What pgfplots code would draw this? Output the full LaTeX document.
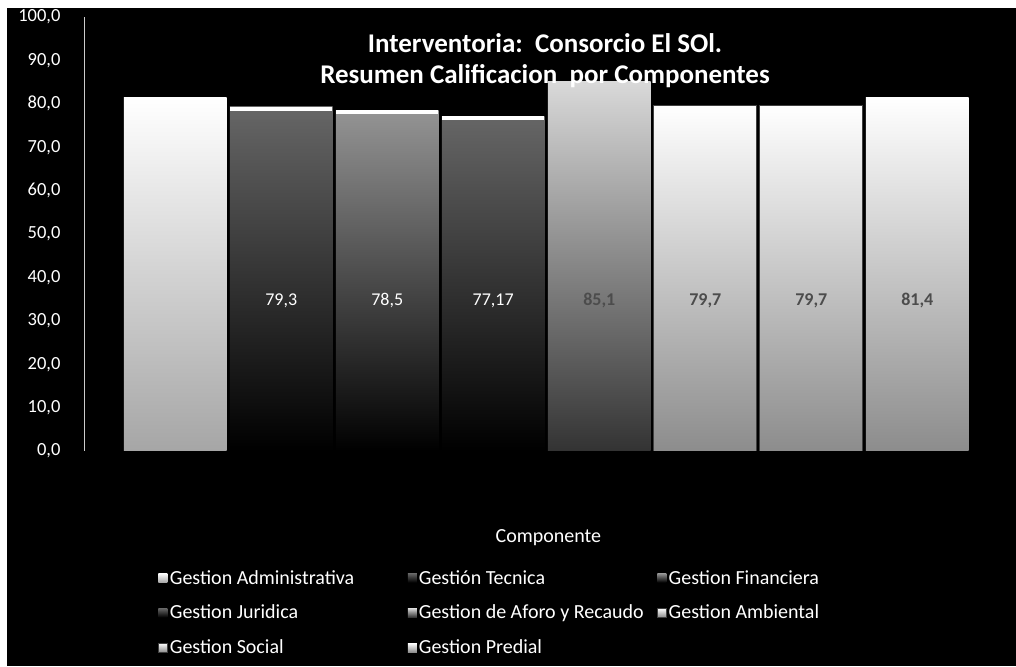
\documentclass[border=0pt]{standalone}
\usepackage{fontspec}
\setmainfont{Carlito}
\usepackage{pgfplots}
\pgfplotsset{compat=1.18}
\begin{document}
\begin{tikzpicture}
\fill[white] (0,0) rectangle (1016pt,666pt);
\fill[black] (7pt,0) rectangle (1016pt,658pt);
\useasboundingbox (0,0) rectangle (1016pt,666pt);
\begin{axis}[
  name=ax,
  at={(84pt,215pt)}, anchor=south west,
  scale only axis, width=916pt, height=434pt,
  xmin=-0.86, xmax=7.78, ymin=0, ymax=100,
  ybar, bar shift=0pt, bar width=0.97,
  axis y line*=left, axis x line*=bottom,
  x axis line style={draw=none},
  y axis line style={white!80!black, line width=0.8pt},
  ytick={0,10,...,100}, major tick length=0pt,
  yticklabel style={font=\fontsize{18.5}{22}\selectfont, text=white, xshift=-20pt,
    /pgf/number format/.cd, fixed, fixed zerofill, precision=1, use comma, assume math mode=true},
  xtick=\empty,
  xlabel={Componente},
  x label style={at={(axis description cs:0.507,0)}, anchor=center, yshift=-87pt,
    font=\fontsize{20}{24}\selectfont, text=white},
  legend columns=3,
  legend cell align=left,
  legend image code/.code={\fill[#1] (0pt,-4.5pt) rectangle (9pt,4.5pt);},
  legend style={at={(0.0774,-0.265)}, anchor=north west, fill=black, draw=none,
    text=white, font=\fontsize{20}{24}\selectfont, row sep=15.5pt,
    /tikz/every even column/.append style={column sep=8pt}},
]
\addplot[draw=none, top color=white, middle color=white, bottom color=black!35] coordinates {(0,81.4)};
\addlegendentry{\makebox[228pt][l]{Gestion Administrativa}}
\addplot[draw=none, top color=black!60, middle color=black, bottom color=black] coordinates {(1,79.3)};
\addlegendentry{\makebox[228pt][l]{Gestión Tecnica}}
\addplot[draw=none, top color=black!42, middle color=black!88, bottom color=black] coordinates {(2,78.5)};
\addlegendentry{\makebox[228pt][l]{Gestion Financiera}}
\addplot[draw=none, top color=black!60, middle color=black, bottom color=black] coordinates {(3,77.17)};
\addlegendentry{\makebox[228pt][l]{Gestion Juridica}}
\addplot[draw=none, top color=black!15, middle color=black!35, bottom color=black!80] coordinates {(4,85.1)};
\addlegendentry{\makebox[228pt][l]{Gestion de Aforo y Recaudo}}
\addplot[draw=black!75, line width=0.8pt, top color=white, middle color=white, bottom color=black!45] coordinates {(5,79.7)};
\addlegendentry{\makebox[228pt][l]{Gestion Ambiental}}
\addplot[draw=black!75, line width=0.8pt, top color=white, middle color=white, bottom color=black!45] coordinates {(6,79.7)};
\addlegendentry{\makebox[228pt][l]{Gestion Social}}
\addplot[draw=none, top color=white, middle color=white, bottom color=black!45] coordinates {(7,81.4)};
\addlegendentry{\makebox[228pt][l]{Gestion Predial}}
% white caps on bars 2-4
\addplot[forget plot, only marks, mark=-, mark size=51pt, white, line width=4pt,
  mark options={yshift=-2pt}] coordinates {(1,79.3) (2,78.5) (3,77.17)};
% value labels
\addplot[draw=none, fill=none, forget plot, point meta=explicit symbolic,
  nodes near coords, nodes near coords align={center},
  every node near coord/.append style={text=white, font=\fontsize{18}{21}\selectfont}]
  coordinates {(1,34.6)[79,3] (2,34.6)[78,5] (3,34.6)[77,17]};
\addplot[draw=none, fill=none, forget plot, point meta=explicit symbolic,
  nodes near coords, nodes near coords align={center},
  every node near coord/.append style={text=black!70, font=\fontsize{18}{21}\selectfont\bfseries}]
  coordinates {(4,34.6)[85,1] (5,34.6)[79,7] (6,34.6)[79,7] (7,34.6)[81,4]};
\end{axis}
\node[align=center, font=\fontsize{27}{31}\selectfont\bfseries, text=white]
  at ([xshift=3pt, yshift=-44pt]ax.north) {Interventoria:\ \ Consorcio El SOl.\\Resumen Calificacion\ \ por Componentes};
\end{tikzpicture}
\end{document}
